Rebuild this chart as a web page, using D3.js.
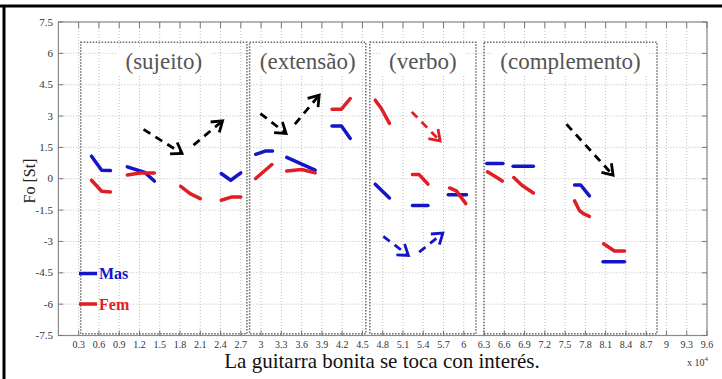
<!DOCTYPE html>
<html><head><meta charset="utf-8">
<script src="https://cdn.jsdelivr.net/npm/d3@7"></script>
<style>body{margin:0;background:#fff}svg{display:block}</style>
</head><body>
<svg id="c" width="722" height="379"></svg>
<script>
// ---- data (x in units of 10^4, y in semitones) ----
const xTickLabels = ["0.3","0.6","0.9","1.2","1.5","1.8","2.1","2.4","2.7","3","3.3","3.6","3.9","4.2","4.5","4.8","5.1","5.4","5.7","6","6.3","6.6","6.9","7.2","7.5","7.8","8.1","8.4","8.7","9","9.3","9.6"];
const yTickLabels = ["-7.5","-6","-4.5","-3","-1.5","0","1.5","3","4.5","6","7.5"];
const sectionNames = ["(sujeito)","(extensão)","(verbo)","(complemento)"];
const sectionStart = [0.33, 2.83, 4.61, 6.30];
const sectionEnd   = [2.79, 4.55, 6.18, 8.86];
const sectionTop = 6.53, sectionBottom = -7.42;

const masSegments = [
  [[0.49,1.08],[0.64,0.41],[0.77,0.39]],
  [[1.02,0.57],[1.28,0.30],[1.42,-0.11]],
  [[2.41,0.25],[2.55,-0.07],[2.70,0.28]],
  [[2.92,1.17],[3.07,1.33],[3.17,1.33]],
  [[3.38,1.02],[3.80,0.41]],
  [[4.05,2.52],[4.19,2.52],[4.32,1.93]],
  [[4.69,-0.26],[4.90,-0.92]],
  [[5.24,-1.28],[5.47,-1.28]],
  [[5.77,-0.76],[6.04,-0.76]],
  [[6.34,0.73],[6.58,0.73]],
  [[6.73,0.60],[7.03,0.60]],
  [[7.64,-0.30],[7.73,-0.30],[7.86,-0.82]],
  [[8.06,-3.97],[8.38,-3.97]]
];
const femSegments = [
  [[0.49,-0.07],[0.64,-0.60],[0.77,-0.63]],
  [[1.02,0.18],[1.21,0.28],[1.42,0.28]],
  [[1.81,-0.36],[1.95,-0.71],[2.10,-0.95]],
  [[2.41,-1.03],[2.57,-0.87],[2.70,-0.87]],
  [[2.92,0.01],[3.16,0.68]],
  [[3.38,0.37],[3.60,0.44],[3.80,0.28]],
  [[4.05,3.33],[4.19,3.33],[4.32,3.84]],
  [[4.69,3.76],[4.78,3.36],[4.90,2.65]],
  [[5.24,0.20],[5.34,0.20],[5.47,-0.26]],
  [[5.79,-0.44],[5.89,-0.58],[6.03,-1.19]],
  [[6.35,0.33],[6.46,0.12],[6.57,-0.11]],
  [[6.74,0.06],[6.86,-0.31],[7.03,-0.68]],
  [[7.64,-1.06],[7.71,-1.51],[7.77,-1.67],[7.86,-1.80]],
  [[8.07,-3.11],[8.23,-3.46],[8.38,-3.46]]
];
// arrows: [x0, y0, x1, y1]
const blackArrows = [
  [1.26,2.36,1.83,1.21],
  [2.00,1.61,2.43,2.77],
  [2.99,3.12,3.37,2.17],
  [3.50,2.61,3.86,4.00],
  [7.52,2.61,8.21,0.17]
];
const redArrows = [[5.23,3.20,5.65,1.81]];
const blueArrows = [
  [4.81,-2.76,5.18,-3.67],
  [5.34,-3.51,5.69,-2.60]
];
const legendLabels = ["Mas","Fem"];

// ---- drawing ----
const BLUE = "#1515c8", RED = "#e01e24";
const serif = "'Liberation Serif','Times New Roman',serif";
const svg = d3.select("#c");
const x = d3.scaleLinear().domain([0, 9.6]).range([58.4, 707]);
const y = d3.scaleLinear().domain([-7.5, 7.5]).range([335.5, 22]);
const xTicks = xTickLabels.map(Number);
const yTicks = yTickLabels.map(Number);

// outer black frame (top & left)
svg.append("line").attr("x1",0).attr("x2",722).attr("y1",6).attr("y2",6).attr("stroke","#000").attr("stroke-width",3);
svg.append("line").attr("x1",4).attr("x2",4).attr("y1",5).attr("y2",379).attr("stroke","#000").attr("stroke-width",3);

// grid
const grid = svg.append("g");
grid.selectAll("line.v").data(xTicks).join("line")
  .attr("x1",d=>x(d)).attr("x2",d=>x(d)).attr("y1",y(7.5)).attr("y2",y(-7.5))
  .attr("stroke","#bdbdbd").attr("stroke-dasharray","1,2");
grid.selectAll("line.h").data(yTicks).join("line")
  .attr("y1",d=>y(d)).attr("y2",d=>y(d)).attr("x1",x(0)).attr("x2",x(9.6))
  .attr("stroke","#bdbdbd").attr("stroke-dasharray","1,2");

// axes frame + ticks
svg.append("rect").attr("x",x(0)).attr("y",y(7.5)).attr("width",x(9.6)-x(0)).attr("height",y(-7.5)-y(7.5))
  .attr("fill","none").attr("stroke","#8a8a8a").attr("stroke-width",1.2);
const tk = svg.append("g").attr("stroke","#777").attr("stroke-width",1);
xTicks.forEach(v=>{
  tk.append("line").attr("x1",x(v)).attr("x2",x(v)).attr("y1",y(-7.5)).attr("y2",y(-7.5)-5);
  tk.append("line").attr("x1",x(v)).attr("x2",x(v)).attr("y1",y(7.5)).attr("y2",y(7.5)+6);
});
yTicks.forEach(v=>{
  tk.append("line").attr("y1",y(v)).attr("y2",y(v)).attr("x1",x(0)).attr("x2",x(0)+5);
  tk.append("line").attr("y1",y(v)).attr("y2",y(v)).attr("x1",x(9.6)).attr("x2",x(9.6)-5);
});

// tick labels
svg.append("g").selectAll("text").data(xTickLabels).join("text")
  .attr("x",d=>x(+d)).attr("y",348).attr("text-anchor","middle")
  .attr("font-family",serif).attr("font-size",10).attr("fill","#333").text(d=>d);
svg.append("g").selectAll("text").data(yTickLabels).join("text")
  .attr("x",53).attr("y",d=>y(+d)+3.5).attr("text-anchor","end")
  .attr("font-family",serif).attr("font-size",11).attr("fill","#333").text(d=>d);

// section boxes
const sec = svg.append("g");
sectionNames.forEach((name,i)=>{
  sec.append("rect").attr("x",x(sectionStart[i])).attr("y",y(sectionTop))
    .attr("width",x(sectionEnd[i])-x(sectionStart[i])).attr("height",y(sectionBottom)-y(sectionTop))
    .attr("fill","none").attr("stroke","#6a6a6a").attr("stroke-width",1.5).attr("stroke-dasharray","1.5,1.5");
});
sectionNames.forEach((name,i)=>{
  const cx = (x(sectionStart[i])+x(sectionEnd[i]))/2;
  const t = sec.append("text").attr("x",cx).attr("y",69).attr("text-anchor","middle")
    .attr("font-family",serif).attr("font-size",23).attr("fill","#555").text(name);
  const bb = t.node().getBBox();
  sec.insert("rect", () => t.node()).attr("x",bb.x-8).attr("y",bb.y-2).attr("width",bb.width+16).attr("height",bb.height+4).attr("fill","#fff");
});

// data segments
const line = d3.line().x(d=>x(d[0])).y(d=>y(d[1]));
const drawSegs = (segs,col)=> svg.append("g").selectAll("path").data(segs).join("path")
  .attr("d",line).attr("fill","none").attr("stroke",col).attr("stroke-width",3.5)
  .attr("stroke-linecap","round").attr("stroke-linejoin","round");
drawSegs(masSegments, BLUE);
drawSegs(femSegments, RED);

// arrows
function drawArrows(arr,col){
  const g = svg.append("g").attr("stroke",col).attr("stroke-width",2.8).attr("fill","none");
  arr.forEach(a=>{
    const x0=x(a[0]),y0=y(a[1]),x1=x(a[2]),y1=y(a[3]);
    g.append("line").attr("x1",x0).attr("y1",y0).attr("x2",x1).attr("y2",y1).attr("stroke-dasharray","8,6");
    const ang=Math.atan2(y1-y0,x1-x0), L=12, s=0.6;
    g.append("path").attr("d",`M${x1-L*Math.cos(ang-s)},${y1-L*Math.sin(ang-s)}L${x1},${y1}L${x1-L*Math.cos(ang+s)},${y1-L*Math.sin(ang+s)}`)
      .attr("stroke-linejoin","miter");
  });
}
drawArrows(blackArrows,"#000");
drawArrows(redArrows,RED);
drawArrows(blueArrows,BLUE);

// legend
const leg = svg.append("g");
[[BLUE,273.5,279],[RED,304,310]].forEach((p,i)=>{
  leg.append("line").attr("x1",79).attr("x2",97).attr("y1",p[1]).attr("y2",p[1]).attr("stroke",p[0]).attr("stroke-width",3.5);
  leg.append("text").attr("x",99).attr("y",p[2]).attr("font-family",serif).attr("font-weight","bold")
    .attr("font-size",16).attr("fill",p[0]).text(legendLabels[i]);
});

// axis titles
svg.append("text").attr("transform","translate(35,181) rotate(-90)").attr("text-anchor","middle")
  .attr("font-family",serif).attr("font-size",16).attr("fill","#222").text("Fo [St]");
svg.append("text").attr("x",382).attr("y",368).attr("text-anchor","middle")
  .attr("font-family",serif).attr("font-size",21).attr("fill","#111").text("La guitarra bonita se toca con interés.");
const ex = svg.append("text").attr("x",687).attr("y",366).attr("font-family",serif).attr("font-size",10).attr("fill","#333");
ex.append("tspan").text("x 10");
ex.append("tspan").attr("dy",-5).attr("font-size",7).text("4");
</script>
</body></html>
